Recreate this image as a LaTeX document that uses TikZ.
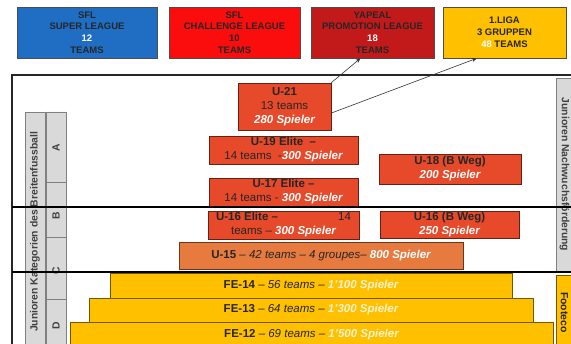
\documentclass[tikz,border=0pt]{standalone}
\usepackage{fontspec}
\setmainfont{Liberation Sans}
\usetikzlibrary{arrows.meta}
\definecolor{sflblue}{HTML}{1F6EC4}
\definecolor{sflred}{HTML}{FC0D0D}
\definecolor{promored}{HTML}{C21A1A}
\definecolor{ligagelb}{HTML}{FFC000}
\definecolor{junrot}{HTML}{E64A2A}
\definecolor{uorange}{HTML}{E77A3F}
\definecolor{balkengrau}{HTML}{D9D9D9}
\definecolor{randgrau}{HTML}{808080}
\definecolor{hellgelb}{HTML}{FFF3CF}

\begin{document}
\begin{tikzpicture}[x=1pt,y=-1pt,
  ligabox/.style={draw=black!70,line width=0.6pt,minimum width=#1pt,minimum height=51pt,
    inner sep=0pt,align=center,text=black!85,font=\fontsize{9.5}{11.8}\selectfont\bfseries},
  katbox/.style={draw=black!55!junrot,line width=0.6pt,fill=junrot,inner sep=0pt,align=center,
    text=black!85,font=\fontsize{11.5}{14}\selectfont\bfseries},
  febox/.style={draw=black!55!ligagelb,line width=0.6pt,fill=ligagelb,inner sep=0pt,
    text=black!85,font=\fontsize{11.5}{14}\selectfont\bfseries},
  seite/.style={draw=randgrau,line width=0.6pt,fill=balkengrau,inner sep=0pt,
    text=black!75,font=\fontsize{10.4}{12}\selectfont\bfseries},
  pfeil/.style={-{Stealth[length=5pt,width=4pt]},black!80,line width=0.6pt}]
  \clip (0,0) rectangle (571,344);

  % ligen oben
  \node[ligabox={140},fill=sflblue] (sl) at (87,32.5) {SFL\\SUPER LEAGUE\\\textcolor{white}{12}\\TEAMS};
  \node[ligabox={131},fill=sflred] (cl) at (234.5,32.5) {SFL\\CHALLENGE LEAGUE\\10\\TEAMS};
  \node[ligabox={123},fill=promored] (pl) at (372.5,32.5) {YAPEAL\\PROMOTION LEAGUE\\\textcolor{white}{18}\\TEAMS};
  \node[ligabox={123},fill=ligagelb] (li) at (504.5,32.5) {1.LIGA\\3 GRUPPEN\\\textcolor{white}{48} TEAMS};

  \draw[line width=1.5pt,black!85] (571,75) -- (12,75) -- (12,344);

  % balken links und rechts
  \node[seite,rotate=90,minimum width=240pt,minimum height=20pt] (kat) at (35,232) {Junioren Kategorien des Breitenfussball};
  \draw[draw=randgrau,line width=0.6pt,fill=balkengrau]
    (46,112) rectangle (66,182) (46,182) rectangle (66,237)
    (46,237) rectangle (66,299) (46,299) rectangle (66,350);
  \node[rotate=90,text=black!75,font=\fontsize{10.4}{12}\selectfont\bfseries] (ka) at (56,148) {A};
  \node[rotate=90,text=black!75,font=\fontsize{10.4}{12}\selectfont\bfseries] (kb) at (56,216) {B};
  \node[rotate=90,text=black!75,font=\fontsize{10.4}{12}\selectfont\bfseries] (kc) at (56,271) {C};
  \node[rotate=90,text=black!75,font=\fontsize{10.4}{12}\selectfont\bfseries] (kd) at (56,326) {D};
  \node[seite,rotate=-90,minimum width=193pt,minimum height=17pt] (nw) at (564.5,174.5) {Junioren Nachwuchsförderung};
  \node[seite,rotate=-90,minimum width=75pt,minimum height=17pt,fill=ligagelb,draw=black!55!ligagelb,text=black!85] (ft) at (564.5,312.5) {Footeco};

  % kategorien
  \node[katbox,minimum width=93pt,minimum height=47pt] (u21) at (284.5,106.5)
    {U-21\\{\mdseries 13 teams}\\{\itshape\color{white}280 Spieler}};
  \node[katbox,minimum width=149pt,minimum height=28pt] (u19) at (283.5,150)
    {U-19 Elite\ \ –\\{\mdseries 14 teams\ \ -}{\itshape\color{white}300 Spieler}};
  \node[katbox,minimum width=149pt,minimum height=28pt] (u17) at (283.5,192)
    {U-17 Elite –\\{\mdseries 14 teams - }{\itshape\color{white}300 Spieler}};
  \node[katbox,minimum width=142pt,minimum height=30pt] (u18) at (450,169)
    {U-18 (B Weg)\\{\itshape\color{white}200 Spieler}};
  \node[katbox,minimum width=151pt,minimum height=28pt] (u16) at (283.5,225)
    {\makebox[135pt]{U-16 Elite –\hfill\mdseries 14}\\{\mdseries teams – }{\itshape\color{white}300 Spieler}};
  \node[katbox,minimum width=139pt,minimum height=27pt] (u16b) at (449.5,224.5)
    {U-16 (B Weg)\\{\itshape\color{white}250 Spieler}};
  \node[katbox,fill=uorange,draw=black!55!uorange,minimum width=284pt,minimum height=27pt] (u15) at (321,255.5)
    {U-15{\mdseries\itshape{} – 42 teams – 4 groupes– }{\itshape\color{white}800 Spieler}};

  \node[febox,minimum width=402pt,minimum height=25pt] (fe14) at (311,285.5)
    {FE-14{\mdseries\itshape{} – 56 teams – }{\itshape\color{hellgelb}1'100 Spieler}};
  \node[febox,minimum width=444pt,minimum height=24pt] (fe13) at (311,310)
    {FE-13{\mdseries\itshape{} – 64 teams – }{\itshape\color{hellgelb}1'300 Spieler}};
  \node[febox,minimum width=483pt,minimum height=25pt] (fe12) at (311.5,334.5)
    {FE-12{\mdseries\itshape{} – 69 teams – }{\itshape\color{hellgelb}1'500 Spieler}};

  \draw[line width=2.2pt] (12,207) -- (571,207);
  \draw[line width=2.2pt] (12,272) -- (571,272);

  \draw[pfeil] (u21.north east) -- (pl.245);
  \draw[pfeil] (u21.-8) -- (li.223);
\end{tikzpicture}
\end{document}
